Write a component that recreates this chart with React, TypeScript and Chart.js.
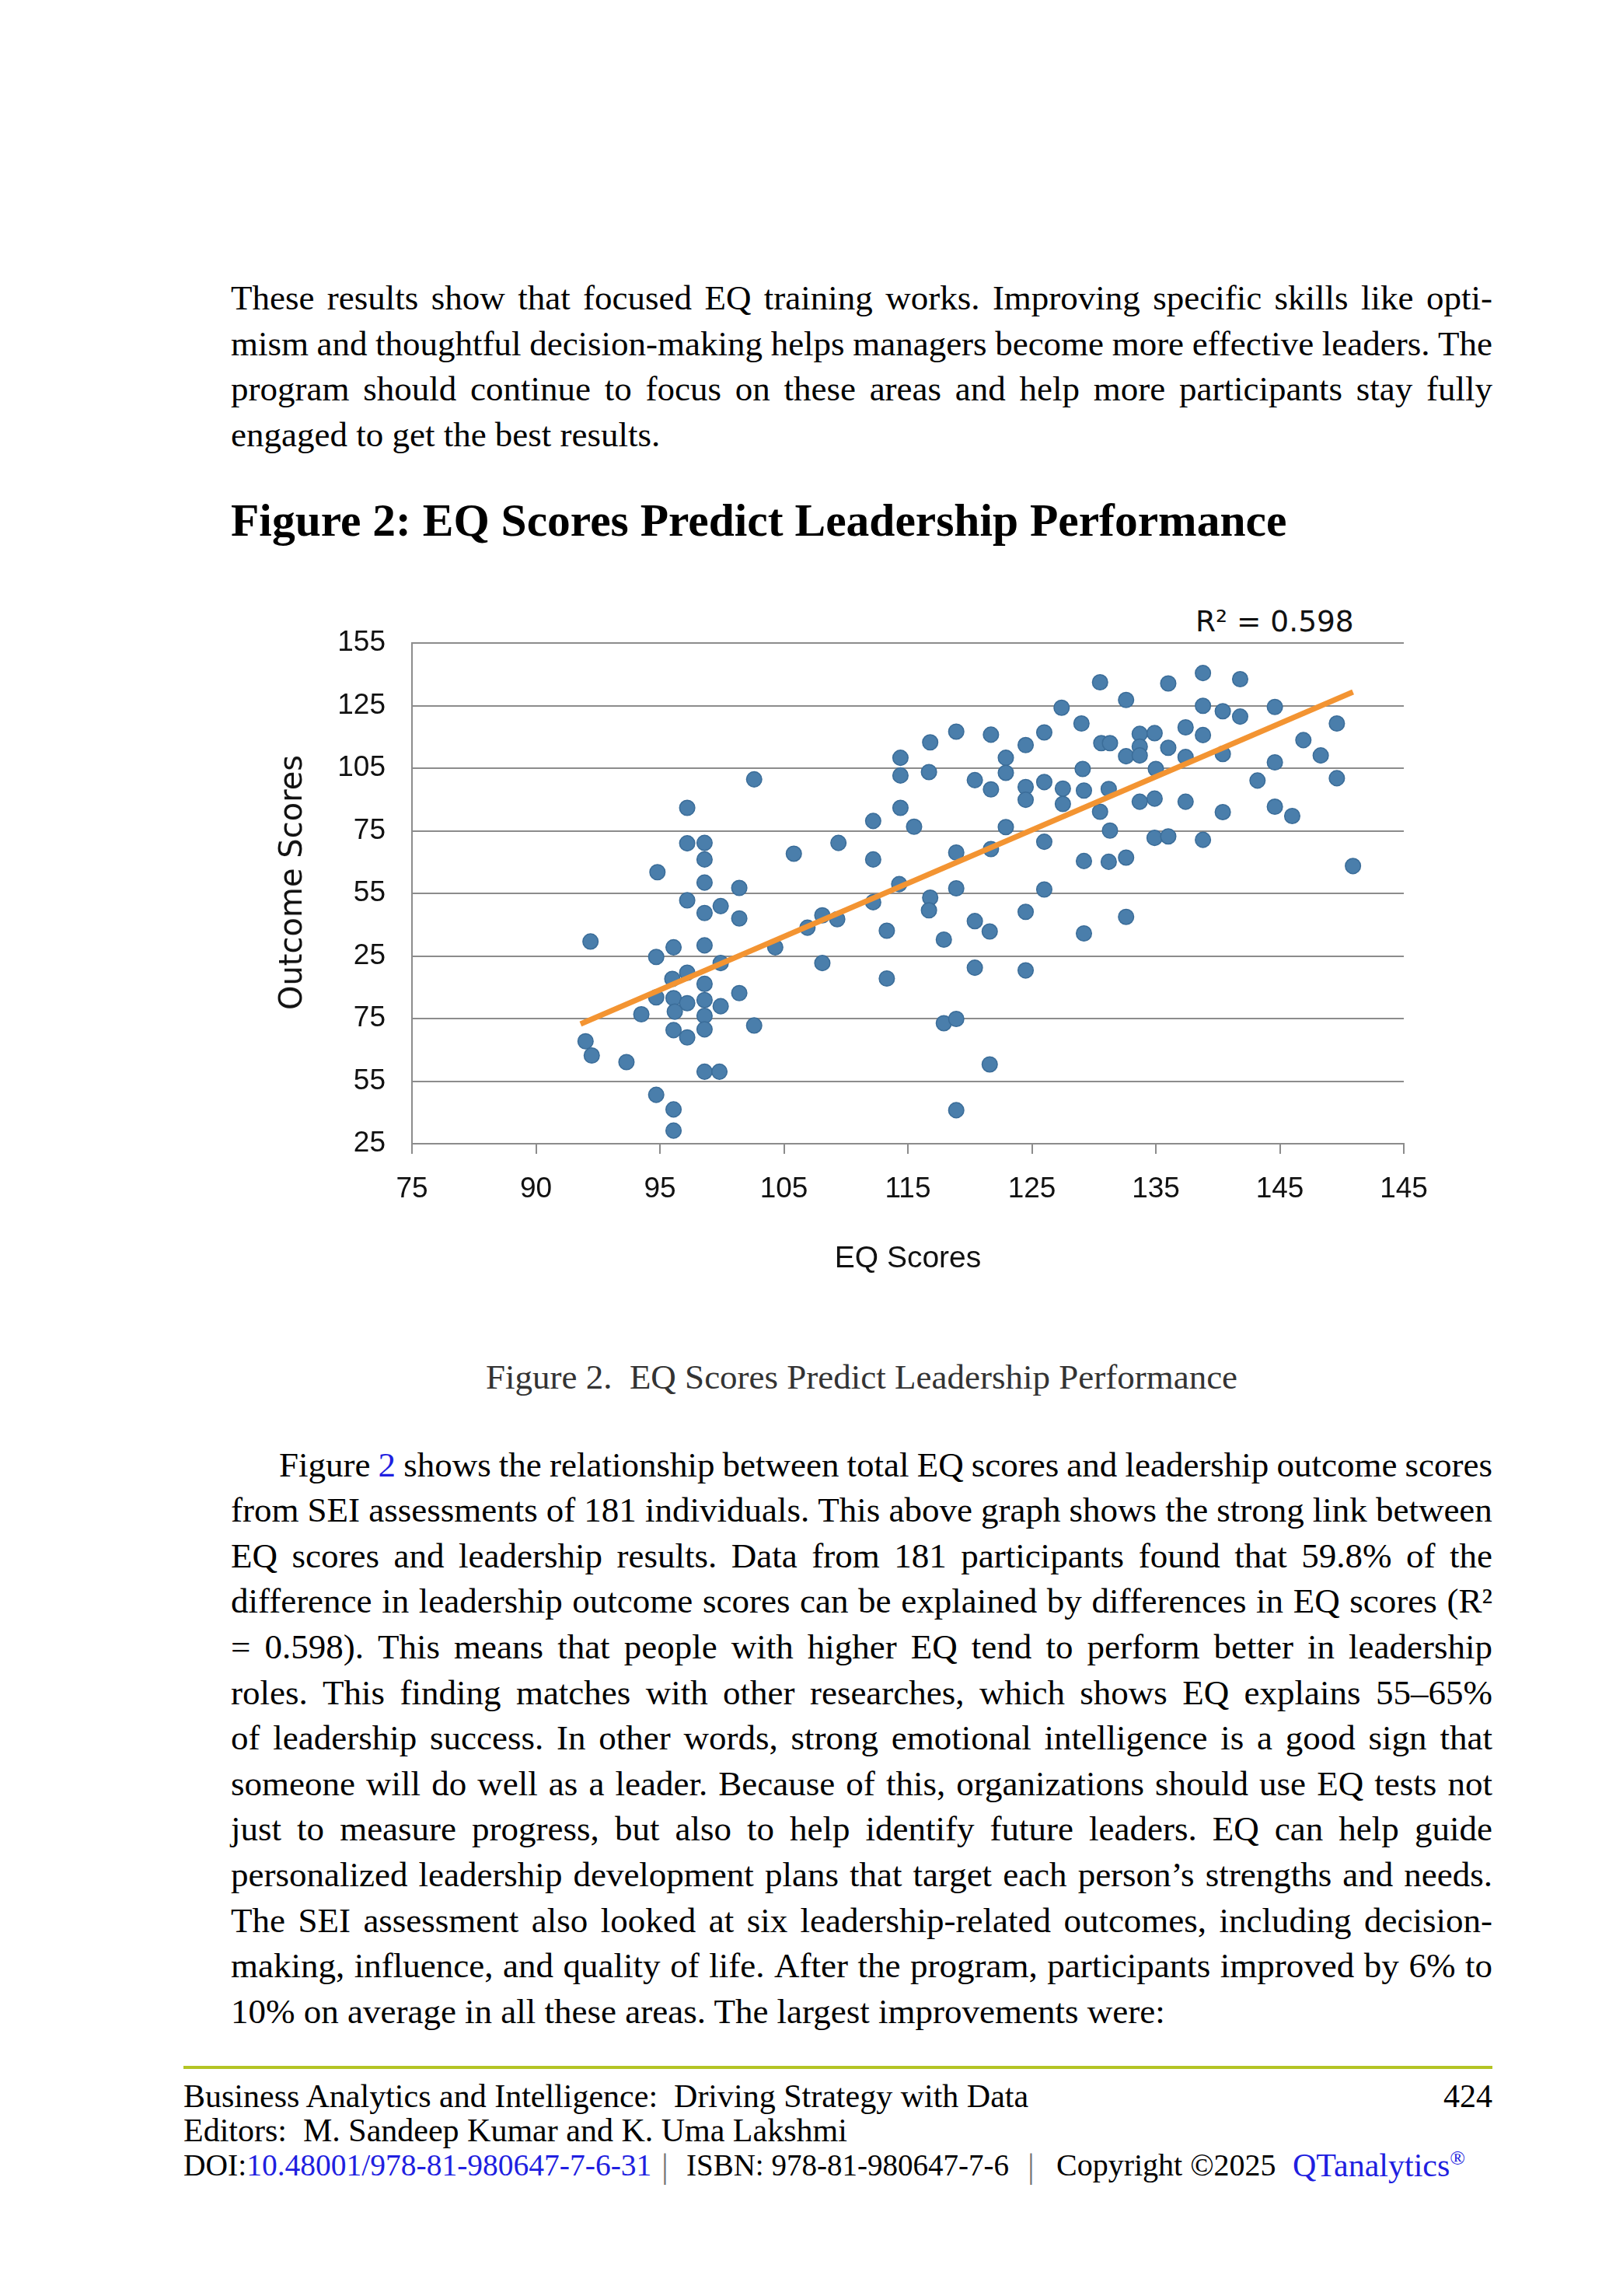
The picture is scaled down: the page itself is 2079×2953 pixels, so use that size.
import React, { useEffect, useRef } from "react";
import { Chart, registerables } from "chart.js";

Chart.register(...registerables);

// ---------- Chart data ----------
const eqScores = [
  102.6, 97.2, 97.2, 98.6, 98.6, 105.8, 109.4, 94.8, 98.6, 101.4, 97.2, 99.9,
  130.5, 127.4, 129.0, 118.9, 121.7, 126.0, 116.8, 124.5, 130.6, 131.3, 114.4, 122.9,
  114.4, 116.7, 122.9, 129.1, 120.4, 121.7, 124.5, 124.5, 126.0, 127.5, 127.5, 129.2,
  131.2, 130.5, 131.3, 114.4, 112.2, 115.5, 122.9, 112.2, 118.9, 121.7, 126.0, 129.2,
  131.2, 114.3, 118.9, 126.0, 116.8, 112.2,
  138.8, 141.8, 136.0, 132.6, 138.8, 140.4, 141.8, 144.6, 149.6, 133.7, 134.9, 137.4,
  138.8, 133.7, 136.0, 132.6, 133.7, 137.4, 140.4, 146.9, 148.3, 144.6, 135.0, 143.2,
  149.6, 133.7, 134.9, 137.4, 140.4, 144.6, 146.0, 134.9, 136.0, 138.8, 132.6, 150.9,
  132.6,
  98.6, 101.4, 89.4, 96.1, 98.6, 94.7, 104.3, 106.9, 108.1, 109.3, 108.1, 99.9,
  97.2, 96.0, 98.6, 101.4, 94.7, 96.1, 97.2, 98.6, 99.9, 96.2, 93.5, 98.6,
  98.6, 96.1, 97.2, 102.6, 89.0, 89.5, 92.3, 98.6, 99.8, 94.7, 96.1, 96.1,
  116.7, 113.3, 117.9, 120.4, 121.6, 124.5, 129.2, 120.4, 124.5, 113.3, 117.9, 118.9,
  121.6, 118.9,
];

const outcomeScores = [
  119.6, 112.2, 103.0, 103.1, 98.8, 100.3, 103.1, 95.5, 92.8, 91.4, 88.2, 86.7,
  144.8, 138.2, 134.1, 132.0, 131.2, 131.8, 129.2, 128.5, 129.0, 129.0, 125.2, 125.2,
  120.6, 121.5, 121.3, 122.3, 119.4, 117.0, 117.6, 114.3, 118.9, 117.2, 113.2, 116.7,
  117.1, 111.2, 106.3, 112.2, 108.8, 107.3, 107.2, 98.8, 100.6, 101.5, 103.4, 98.4,
  98.2, 92.4, 91.3, 91.0, 88.9, 87.7,
  147.2, 145.6, 144.5, 140.2, 138.7, 137.3, 135.9, 138.4, 134.1, 131.4, 131.6, 133.1,
  131.1, 128.1, 127.8, 125.6, 125.8, 125.4, 126.2, 129.8, 125.8, 124.0, 122.3, 119.3,
  119.9, 113.8, 114.6, 113.8, 111.1, 112.5, 110.1, 104.4, 104.8, 103.9, 99.3, 97.1,
  83.9,
  84.9, 83.5, 77.5, 76.0, 76.5, 73.5, 76.0, 81.1, 84.3, 83.3, 71.9, 71.9,
  69.4, 67.8, 66.5, 64.1, 63.0, 62.8, 61.5, 62.3, 60.7, 59.3, 58.6, 58.2,
  54.7, 54.5, 52.6, 55.7, 51.6, 47.9, 46.2, 43.7, 43.7, 37.7, 33.9, 28.4,
  85.6, 80.3, 78.0, 82.8, 80.1, 85.2, 79.6, 70.7, 70.0, 67.9, 56.3, 57.4,
  45.6, 33.7,
];

const trendX = [88.6, 150.9];
const trendY = [56.1, 142.3];

const xTickLabels = ["75", "90", "95", "105", "115", "125", "135", "145", "145"];
const yTickLabels = ["25", "55", "75", "25", "55", "75", "105", "125", "155"];
const xTitle = "EQ Scores";
const yTitle = "Outcome Scores";
const rSquaredLabel = "R\u00B2 = 0.598";

// ---------- Page text ----------
const headingText = "Figure 2: EQ Scores Predict Leadership Performance";
const captionText = "Figure 2.  EQ Scores Predict Leadership Performance";

const para1Lines = [
  "These results show that focused EQ training works.  Improving specific skills like opti-",
  "mism and thoughtful decision-making helps managers become more effective leaders. The",
  "program should continue to focus on these areas and help more participants stay fully",
  "engaged to get the best results.",
];

const para2Lines = [
  "Figure @2 shows the relationship between total EQ scores and leadership outcome scores",
  "from SEI assessments of 181 individuals. This above graph shows the strong link between",
  "EQ scores and leadership results.  Data from 181 participants found that 59.8% of the",
  "difference in leadership outcome scores can be explained by differences in EQ scores (R\u00B2",
  "= 0.598). This means that people with higher EQ tend to perform better in leadership",
  "roles.  This finding matches with other researches, which shows EQ explains 55\u201365%",
  "of leadership success.  In other words, strong emotional intelligence is a good sign that",
  "someone will do well as a leader. Because of this, organizations should use EQ tests not",
  "just to measure progress, but also to help identify future leaders.  EQ can help guide",
  "personalized leadership development plans that target each person\u2019s strengths and needs.",
  "The SEI assessment also looked at six leadership-related outcomes, including decision-",
  "making, influence, and quality of life. After the program, participants improved by 6% to",
  "10% on average in all these areas. The largest improvements were:",
];

const SERIF = "'Liberation Serif', 'Times New Roman', serif";
const SANS = "'Liberation Sans', Arial, sans-serif";
const DEJAVU = "'DejaVu Sans', Verdana, sans-serif";
const LINK = "#1f1fe0";
const BODY_SIZE = 45;
const BODY_LH = 58.6;

function TextLine(props: {
  text: string;
  left: number;
  top: number;
  width: number;
  justify: boolean;
}) {
  const { text, left, top, width, justify } = props;
  if (justify) {
    const words = text.split(" ").filter((w) => w.length > 0);
    return (
      <div
        style={{
          position: "absolute",
          left,
          top,
          width,
          height: BODY_LH,
          display: "flex",
          justifyContent: "space-between",
          whiteSpace: "nowrap",
          lineHeight: BODY_LH + "px",
          fontSize: BODY_SIZE,
        }}
      >
        {words.map((w, i) =>
          w.startsWith("@") ? (
            <span key={i} style={{ color: LINK }}>
              {w.slice(1)}
            </span>
          ) : (
            <span key={i}>{w}</span>
          )
        )}
      </div>
    );
  }
  return (
    <div
      style={{
        position: "absolute",
        left,
        top,
        whiteSpace: "pre",
        lineHeight: BODY_LH + "px",
        fontSize: BODY_SIZE,
      }}
    >
      {text}
    </div>
  );
}

// canvas placement on the page
const CANVAS_LEFT = 340;
const CANVAS_TOP = 760;
const CANVAS_W = 1540;
const CANVAS_H = 920;

function ScatterChart() {
  const ref = useRef<HTMLCanvasElement>(null);
  useEffect(() => {
    const canvas = ref.current;
    if (!canvas) return;
    const points = eqScores.map((x, i) => ({ x, y: outcomeScores[i] }));
    const trend = trendX.map((x, i) => ({ x, y: trendY[i] }));
    const gridColor = "#8c8c8c";
    const chart = new Chart(canvas, {
      type: "scatter",
      data: {
        datasets: [
          {
            label: "Trend",
            data: trend,
            showLine: true,
            borderColor: "#f39432",
            borderWidth: 7,
            borderCapStyle: "butt",
            pointRadius: 0,
            pointHoverRadius: 0,
            order: 0,
          } as any,
          {
            label: "EQ vs Outcome",
            data: points,
            pointRadius: 9.8,
            pointHoverRadius: 9.8,
            backgroundColor: "#4a7eab",
            borderColor: "#3b6d99",
            borderWidth: 1.5,
            order: 1,
          },
        ],
      },
      options: {
        animation: false,
        responsive: false,
        devicePixelRatio: 1,
        events: [],
        layout: { padding: { top: 67, right: 74, left: 0, bottom: 0 } },
        plugins: {
          legend: { display: false },
          tooltip: { enabled: false },
        },
        scales: {
          x: {
            type: "linear",
            min: 75,
            max: 155,
            afterFit: (s: any) => {
              s.height = 209;
            },
            ticks: {
              stepSize: 10,
              autoSkip: false,
              maxRotation: 0,
              minRotation: 0,
              padding: 24,
              color: "#111",
              font: { family: SANS, size: 37 },
              callback: (_v: any, i: number) => xTickLabels[i],
            },
            grid: {
              drawOnChartArea: false,
              drawTicks: true,
              tickLength: 13,
              color: gridColor,
              lineWidth: 2,
            },
            border: { display: true, color: gridColor, width: 2 },
            title: {
              display: true,
              text: xTitle,
              color: "#111",
              font: { family: SANS, size: 39 },
              padding: { top: 0, bottom: 37 },
            },
          },
          y: {
            type: "linear",
            min: 25,
            max: 155,
            afterFit: (s: any) => {
              s.width = 190;
            },
            ticks: {
              stepSize: 16.25,
              autoSkip: false,
              padding: 34,
              color: "#111",
              font: { family: SANS, size: 37 },
              callback: (_v: any, i: number) => yTickLabels[i],
            },
            grid: {
              drawTicks: false,
              color: gridColor,
              lineWidth: 2,
            },
            border: { display: true, color: gridColor, width: 2 },
          },
        },
      },
    });
    return () => chart.destroy();
  }, []);
  return (
    <canvas
      ref={ref}
      width={CANVAS_W}
      height={CANVAS_H}
      style={{
        position: "absolute",
        left: CANVAS_LEFT,
        top: CANVAS_TOP,
        width: CANVAS_W,
        height: CANVAS_H,
      }}
    />
  );
}

const footStyle = (left: number, top: number, size: number, color = "#000") => ({
  position: "absolute" as const,
  left,
  top,
  fontSize: size,
  lineHeight: "44.5px",
  whiteSpace: "pre" as const,
  color,
});

export default function App() {
  const left = 297;
  const width = 1623;
  const p1Top = 354;
  const p2Top = 1854.5;
  const f3Top = 2762.6;
  return (
    <div
      style={{
        position: "absolute",
        left: 0,
        top: 0,
        width: 2079,
        height: 2953,
        background: "#fff",
        overflow: "hidden",
        fontFamily: SERIF,
        color: "#000",
      }}
    >
      {para1Lines.map((t, i) => (
        <TextLine
          key={"p1" + i}
          text={t}
          left={left}
          top={p1Top + i * BODY_LH}
          width={width}
          justify={i < para1Lines.length - 1}
        />
      ))}

      <div
        style={{
          position: "absolute",
          left,
          top: 640,
          fontSize: 59.5,
          lineHeight: "59.5px",
          fontWeight: "bold",
          whiteSpace: "nowrap",
        }}
      >
        {headingText}
      </div>

      <div
        style={{
          position: "absolute",
          left: 1538,
          top: 781,
          width: 200,
          textAlign: "right",
          fontFamily: DEJAVU,
          fontSize: 37.5,
          lineHeight: "37.5px",
          color: "#111",
          whiteSpace: "nowrap",
        }}
      >
        {rSquaredLabel}
      </div>

      <ScatterChart />

      <div
        style={{
          position: "absolute",
          left: 374,
          top: 1135,
          transform: "translate(-50%, -50%) rotate(-90deg)",
          fontFamily: DEJAVU,
          fontSize: 40,
          lineHeight: "40px",
          color: "#111",
          whiteSpace: "nowrap",
        }}
      >
        {yTitle}
      </div>

      <div
        style={{
          position: "absolute",
          left,
          top: 1741.5,
          width,
          textAlign: "center",
          fontSize: BODY_SIZE,
          lineHeight: BODY_LH + "px",
          color: "#333",
          whiteSpace: "pre",
        }}
      >
        {captionText}
      </div>

      {para2Lines.map((t, i) => (
        <TextLine
          key={"p2" + i}
          text={t}
          left={i === 0 ? left + 62 : left}
          top={p2Top + i * BODY_LH}
          width={i === 0 ? width - 62 : width}
          justify={i < para2Lines.length - 1}
        />
      ))}

      <div
        style={{
          position: "absolute",
          left: 236,
          top: 2657,
          width: 1684,
          height: 4,
          background: "#b4c424",
        }}
      />

      <div style={footStyle(236, 2673.6, 42)}>
        Business Analytics and Intelligence:  Driving Strategy with Data
      </div>
      <div
        style={{
          position: "absolute",
          left: 1820,
          top: 2673.6,
          width: 100,
          textAlign: "right",
          fontSize: 42,
          lineHeight: "44.5px",
        }}
      >
        424
      </div>
      <div style={footStyle(236, 2718, 42)}>Editors:  M. Sandeep Kumar and K. Uma Lakshmi</div>
      <div style={footStyle(236, f3Top, 39.5)}>
        DOI:<span style={{ color: LINK }}>10.48001/978-81-980647-7-6-31</span>
      </div>
      <div style={footStyle(851, f3Top + 2, 44, "#777")}>|</div>
      <div style={footStyle(883, f3Top, 39)}>ISBN: 978-81-980647-7-6</div>
      <div style={footStyle(1322, f3Top + 2, 44, "#777")}>|</div>
      <div style={footStyle(1359, f3Top, 40)}>Copyright ©2025</div>
      <div style={footStyle(1663, f3Top, 42, LINK)}>
        QTanalytics
        <span style={{ position: "relative", top: -15, fontSize: 26, lineHeight: 0 }}>®</span>
      </div>
    </div>
  );
}
